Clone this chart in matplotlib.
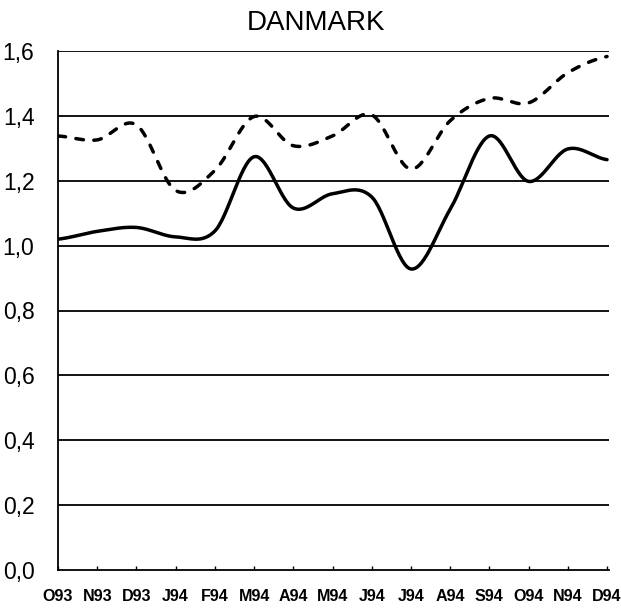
import numpy as np
import matplotlib
matplotlib.use("Agg")
import matplotlib.pyplot as plt

months = ["O93", "N93", "D93", "J94", "F94", "M94", "A94", "M94", "J94",
          "J94", "A94", "S94", "O94", "N94", "D94"]
solid = [1.020, 1.044, 1.056, 1.027, 1.045, 1.274, 1.116, 1.160, 1.150,
         0.928, 1.112, 1.338, 1.198, 1.298, 1.265]
dashed = [1.338, 1.326, 1.372, 1.170, 1.232, 1.398, 1.308, 1.338, 1.403,
          1.236, 1.385, 1.454, 1.440, 1.533, 1.583]
yticks = [0.0, 0.2, 0.4, 0.6, 0.8, 1.0, 1.2, 1.4, 1.6]


def smooth(y, n=30):
    """Catmull-Rom smoothing for drawing (passes through every data point)."""
    y = np.asarray(y, float)
    xs, ys = [], []
    for i in range(len(y) - 1):
        p0 = y[i - 1] if i > 0 else y[i]
        p1, p2 = y[i], y[i + 1]
        p3 = y[i + 2] if i + 2 < len(y) else y[i + 1]
        m1 = (p2 - p0) / 2.0
        m2 = (p3 - p1) / 2.0
        t = np.linspace(0, 1, n, endpoint=False)
        h00 = 2 * t**3 - 3 * t**2 + 1
        h10 = t**3 - 2 * t**2 + t
        h01 = -2 * t**3 + 3 * t**2
        h11 = t**3 - t**2
        xs.append(i + t)
        ys.append(h00 * p1 + h10 * m1 + h01 * p2 + h11 * m2)
    xs.append(np.array([len(y) - 1.0]))
    ys.append(np.array([y[-1]]))
    return np.concatenate(xs), np.concatenate(ys)


plt.rcParams['font.family'] = ['Liberation Sans', 'DejaVu Sans']

fig = plt.figure(figsize=(6.21, 6.10), dpi=100)
ax = fig.add_axes([58 / 621, 1 - 570 / 610, (609 - 58) / 621, (570 - 51) / 610])

x = np.arange(len(months))
for v in yticks[1:]:
    ax.axhline(v, color='black', lw=1.3, zorder=1)

xs, ys = smooth(solid)
ax.plot(xs, ys, color='black', lw=2.5, solid_capstyle='round', zorder=3)
xd, yd = smooth(dashed)
ax.plot(xd, yd, color='black', lw=2.5, dashes=(2.2, 3.0), dash_capstyle='round', zorder=3)

ax.set_xlim(0, len(months) - 1 + 0.05)
ax.set_ylim(0, 1.6)
ax.set_xticks(x)
ax.set_xticklabels(months, fontsize=11.6, fontweight='bold')
ax.set_yticks(yticks)
ax.set_yticklabels([f"{v:.1f}".replace('.', ',') for v in yticks], fontsize=16.5)
ax.tick_params(axis='x', direction='in', length=3, width=1, pad=14)
ax.tick_params(axis='y', length=0, pad=17)

for s in ['top', 'right']:
    ax.spines[s].set_visible(False)
for s in ['left', 'bottom']:
    ax.spines[s].set_linewidth(1.3)

fig.text(316 / 621, 1 - 23 / 610, "DANMARK", ha='center', va='center', fontsize=20)

fig.savefig("out.png", dpi=100)
